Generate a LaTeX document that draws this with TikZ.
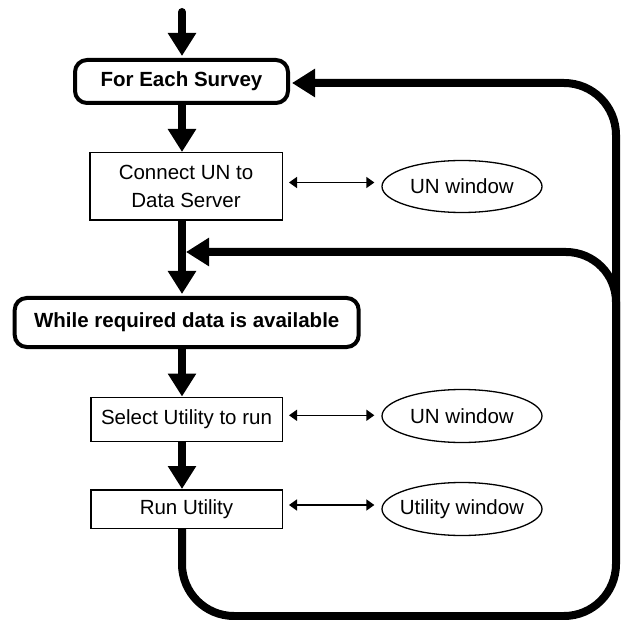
\documentclass[tikz,border=0pt]{standalone}
\usepackage{fontspec}
\setmainfont{Liberation Sans}
\usetikzlibrary{arrows.meta,shapes.geometric}
\begin{document}
\begin{tikzpicture}[x=1pt,y=-1pt,
  every node/.style={font=\fontsize{20.5}{28}\selectfont, inner sep=0pt},
  loopbox/.style={draw, line width=4pt, rounded corners=12pt, font=\fontsize{20.5}{28}\selectfont\bfseries},
  stepbox/.style={draw, line width=1.5pt, align=center},
  winnode/.style={draw, ellipse, line width=1.3pt, minimum width=160pt, inner xsep=-8pt},
  flow/.style={line width=8pt, -{Triangle[width=27pt,length=23pt]}},
  link/.style={line width=1.5pt, {Triangle[width=11pt,length=8pt]}-{Triangle[width=11pt,length=8pt]}, shorten <=6pt, shorten >=7pt},
]
\useasboundingbox (0,0) rectangle (621,620);

% nodes
\node[loopbox, minimum width=213pt, minimum height=43pt] (fes) at (181.5,81.5) {For Each Survey};
\node[stepbox, minimum width=192.5pt, minimum height=67.5pt] (conn) at (186,186.5) {Connect UN to\\Data Server};
\node[loopbox, minimum width=344pt, minimum height=49pt] (wh) at (186.7,322.5) {While required data is available};
\node[stepbox, minimum width=191.5pt, minimum height=44pt] (sel) at (186.5,419.3) {Select Utility to run};
\node[stepbox, minimum width=191.5pt, minimum height=38.5pt] (run) at (186.5,509) {Run Utility};

\node[winnode, minimum height=52pt] (w1) at (462,186.5) {UN window};
\node[winnode, minimum height=53pt] (w2) at (462,416) {UN window};
\node[winnode, minimum height=53pt] (w3) at (462,509) {Utility window};

% coordinates
\coordinate (start) at (182,12);
\coordinate (bl) at (182,616);
\coordinate (br) at (616,616);
\coordinate (tr) at (616,83);
\coordinate (mid) at (616,420);
\coordinate (mr) at (616,252);
\coordinate (mj) at (186,252);

% main flow
\draw[flow, line cap=round, shorten >=2pt] (start) -- (start |- fes.north);
\draw[flow] (start |- fes.south) -- (start |- conn.north);
\draw[flow, shorten >=2pt] (start |- conn.south) -- (start |- wh.north);
\draw[flow] (start |- wh.south) -- (start |- sel.north);
\draw[flow] (start |- sel.south) -- (start |- run.north);

% loops
\draw[flow, rounded corners=52pt, shorten >=2pt] (start |- run.south) -- (bl) -- (br) -- (tr) -- (fes.east |- tr);
\draw[flow, rounded corners=50pt] (mid) -- (mr) -- (mj);

% links to windows
\draw[link] ([yshift=4pt]conn.east) -- ([yshift=4pt]conn.east -| w1.west);
\draw[link] ([yshift=4pt]sel.east) -- ([yshift=4pt]sel.east -| w2.west);
\draw[link] ([yshift=4pt]run.east) -- ([yshift=4pt]run.east -| w3.west);
\end{tikzpicture}
\end{document}
